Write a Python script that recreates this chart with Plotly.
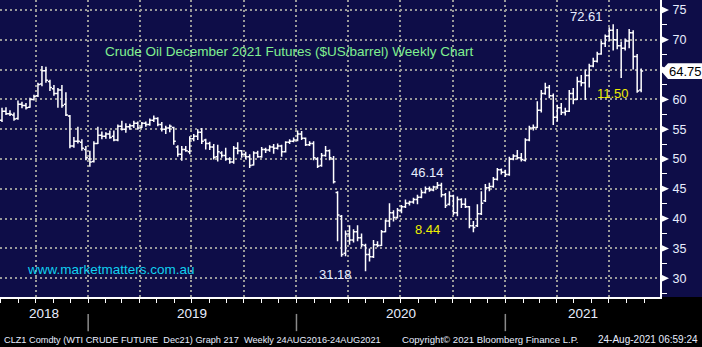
import pandas as pd
import plotly.graph_objects as go

# Weekly OHLC, CLZ1 (WTI Dec-21 future), Aug 2018 - Aug 2021
opens = [56.5, 58.0, 57.6, 57.4, 56.8, 59.2, 59.0, 58.7, 60.0, 60.6,
         62.6, 64.8, 63.0, 61.8, 61.0, 61.6, 59.2, 57.2, 52.2, 53.0,
         52.8, 51.6, 50.0, 49.6, 52.6, 54.0, 53.8, 54.2, 53.8, 53.2,
         55.5, 55.0, 55.4, 55.6, 56.0, 55.3, 56.0, 55.8, 56.5, 56.8,
         55.8, 55.0, 55.2, 55.3, 52.0, 50.8, 51.6, 51.2, 53.4, 53.8,
         54.5, 53.2, 52.6, 52.0, 50.4, 51.0, 50.6, 50.0, 49.5, 51.8,
         51.4, 50.8, 50.4, 49.0, 51.0, 50.4, 51.6, 51.5, 52.0, 51.8,
         52.2, 51.2, 52.8, 53.0, 53.2, 54.2, 53.5, 52.4, 52.6, 50.0,
         48.9, 50.6, 51.4, 50.0, 44.4, 40.4, 34.2, 37.4, 36.4, 37.8,
         36.8, 35.5, 34.0, 33.6, 35.6, 35.5, 37.8, 39.6, 41.0, 40.2,
         41.4, 42.0, 42.6, 42.8, 43.2, 43.6, 44.4, 45.0, 44.8, 45.3,
         45.6, 44.0, 42.4, 43.8, 41.0, 43.2, 42.4, 42.0, 38.8, 38.8,
         40.8, 43.0, 45.2, 45.4, 46.6, 48.2, 47.8, 47.4, 50.0, 50.5,
         50.2, 49.8, 53.2, 55.2, 55.3, 58.2, 61.0, 62.0, 60.6, 57.0,
         58.6, 57.8, 58.0, 61.0, 60.0, 63.0, 62.8, 64.0, 65.6, 66.4,
         67.6, 69.4, 70.6, 71.6, 70.0, 69.0, 68.6, 69.8, 71.2, 67.2,
         61.6]
highs = [58.6, 58.7, 58.2, 57.8, 59.8, 59.6, 59.4, 60.3, 60.8, 62.8,
         65.6, 65.5, 63.3, 62.4, 61.9, 62.4, 61.2, 57.4, 53.7, 55.4,
         53.3, 52.2, 51.4, 53.0, 55.4, 54.6, 54.5, 54.8, 54.8, 55.8,
         56.4, 56.0, 55.9, 56.4, 56.3, 56.2, 56.3, 56.8, 57.3, 57.0,
         56.2, 55.6, 55.8, 55.4, 52.3, 52.2, 52.2, 53.8, 54.2, 55.0,
         55.2, 53.4, 52.9, 52.5, 52.4, 51.3, 51.9, 50.3, 52.2, 52.8,
         51.5, 51.2, 50.8, 51.3, 51.4, 52.0, 51.9, 52.3, 52.5, 52.6,
         52.4, 53.0, 53.3, 53.6, 54.8, 54.7, 53.6, 53.0, 53.0, 50.3,
         51.0, 52.2, 51.6, 50.5, 44.6, 40.6, 38.0, 38.9, 38.2, 38.9,
         37.5, 35.8, 35.0, 36.4, 36.2, 38.1, 39.8, 42.6, 41.4, 41.8,
         42.3, 43.2, 43.0, 43.5, 44.0, 44.8, 45.4, 45.4, 45.5, 46.14,
         46.0, 44.3, 44.6, 44.0, 43.7, 43.4, 43.4, 42.1, 39.6, 42.4,
         44.6, 45.8, 46.0, 47.0, 48.5, 48.4, 48.2, 50.4, 50.8, 51.5,
         51.0, 53.5, 55.6, 55.8, 59.7, 61.6, 62.8, 62.4, 61.0, 59.1,
         59.4, 58.6, 61.6, 61.9, 63.8, 64.1, 65.0, 66.0, 67.0, 68.0,
         69.8, 70.9, 72.1, 72.61, 71.8, 69.7, 70.2, 71.8, 71.6, 67.6,
         65.2]
lows = [56.2, 57.4, 57.2, 56.4, 56.6, 58.5, 58.3, 58.6, 59.8, 60.4,
        62.2, 62.8, 61.4, 60.6, 58.6, 58.6, 57.2, 51.8, 51.9, 52.6,
        51.4, 49.8, 48.7, 49.4, 52.5, 53.3, 53.4, 53.4, 53.0, 53.0,
        54.8, 54.4, 54.9, 55.2, 54.9, 55.2, 55.4, 55.6, 56.2, 55.5,
        54.6, 54.2, 54.5, 52.4, 50.4, 49.7, 51.2, 50.8, 53.0, 53.2,
        52.5, 51.6, 51.5, 49.9, 49.6, 50.2, 49.7, 49.2, 49.2, 50.8,
        50.2, 50.0, 48.5, 48.9, 50.2, 50.2, 51.0, 51.2, 50.9, 51.6,
        50.4, 51.1, 52.5, 52.8, 53.0, 53.2, 52.2, 52.2, 49.8, 48.5,
        48.7, 50.4, 49.8, 45.9, 36.2, 33.6, 33.7, 35.6, 36.0, 36.2,
        35.2, 31.18, 32.8, 33.4, 35.2, 35.4, 37.7, 38.6, 39.5, 40.0,
        40.9, 41.8, 42.2, 42.5, 42.4, 43.4, 44.2, 44.5, 44.6, 45.0,
        43.6, 41.8, 42.2, 40.6, 40.4, 41.8, 41.8, 38.4, 37.70, 38.6,
        40.6, 42.8, 44.6, 45.2, 46.4, 47.4, 47.0, 47.2, 49.8, 49.9,
        49.6, 49.6, 53.0, 54.8, 55.2, 57.8, 60.8, 60.2, 55.7, 56.3,
        57.4, 57.3, 57.9, 59.2, 59.9, 62.2, 59.9, 62.0, 65.4, 66.2,
        67.5, 68.8, 69.8, 68.2, 68.4, 63.6, 68.2, 68.6, 65.0, 61.11,
        61.2]
closes = [58.0, 57.6, 57.5, 56.7, 59.2, 59.0, 58.6, 60.0, 60.5, 62.5,
          64.8, 63.2, 62.0, 61.0, 61.6, 59.0, 57.4, 52.2, 53.0, 53.0,
          51.8, 50.2, 49.5, 52.6, 54.0, 53.8, 54.2, 53.6, 53.2, 55.5,
          55.0, 55.4, 55.6, 56.0, 55.2, 56.0, 55.8, 56.5, 56.8, 55.8,
          55.0, 55.2, 55.5, 53.0, 50.8, 51.6, 51.4, 53.4, 53.8, 54.5,
          53.0, 52.6, 52.0, 50.3, 51.2, 50.6, 50.0, 49.5, 51.8, 51.4,
          50.8, 50.4, 48.9, 51.0, 50.4, 51.6, 51.5, 52.0, 51.8, 52.2,
          51.2, 52.8, 53.0, 53.2, 54.2, 53.5, 52.4, 52.6, 50.2, 48.8,
          50.6, 51.4, 50.2, 46.2, 40.6, 34.0, 37.4, 36.4, 37.8, 36.8,
          35.6, 34.0, 33.6, 35.6, 35.5, 37.8, 39.6, 41.0, 40.2, 41.4,
          42.0, 42.6, 42.8, 43.2, 43.6, 44.4, 45.0, 44.8, 45.3, 45.6,
          44.0, 42.2, 43.8, 41.0, 43.2, 42.4, 42.0, 38.8, 38.5, 40.8,
          42.6, 45.2, 45.4, 46.6, 48.2, 47.8, 47.4, 50.0, 50.5, 50.2,
          49.9, 53.2, 55.2, 55.3, 58.2, 61.0, 62.0, 60.6, 57.0, 58.6,
          57.8, 58.0, 61.0, 60.0, 63.0, 62.8, 64.0, 65.6, 66.4, 67.6,
          69.4, 70.6, 71.6, 70.0, 69.0, 68.6, 69.8, 71.2, 67.2, 61.4,
          64.75]
weeks = pd.date_range(end="2021-08-27", periods=len(closes), freq="W-FRI")

price_ticks = [30, 35, 40, 45, 50, 55, 60, 65, 70, 75]
years = [2018, 2019, 2020, 2021]

title_text = "Crude Oil December 2021 Futures ($US/barrel) Weekly Chart"
site_text = "www.marketmatters.com.au"
footer_left = "CLZ1 Comdty (WTI CRUDE FUTURE \u00a0Dec21) Graph 217 \u00a0Weekly 24AUG2016-24AUG2021"
footer_mid = "Copyright\u00a9 2021 Bloomberg Finance L.P."
footer_right = "24-Aug-2021 06:59:24"

NAVY = "#0e0d48"
GRID = "#9a9a9a"
LABEL = "#e8eeff"
YELLOW = "#eeee00"
FONT = "Liberation Sans, Arial, sans-serif"

# key swing levels derived from the series
i_low = lows.index(min(lows))
i_top20 = max(range(i_low, i_low + 25), key=lambda i: highs[i])
pull20 = min(lows[i_top20:i_top20 + 12])
i_top21 = highs.index(max(highs))
pull21 = min(lows[i_top21:])
last = closes[-1]

x_start = weeks[0] - pd.Timedelta(days=3.5)
x_end = weeks[-1] + pd.Timedelta(days=33)
y_range = [26.85, 76.68]

fig = go.Figure()
fig.add_trace(go.Ohlc(
    x=weeks, open=opens, high=highs, low=lows, close=closes,
    increasing=dict(line=dict(color="white", width=1.5)),
    decreasing=dict(line=dict(color="white", width=1.5)),
    tickwidth=0.5, hoverinfo="skip", showlegend=False,
))

# the price flag sits over the nearest scale label
tick_text = ["" if abs(v - last) < 2 else str(v) for v in price_ticks]

fig.update_layout(
    width=702, height=347,
    margin=dict(l=0, r=42, t=0, b=50),
    paper_bgcolor="black", plot_bgcolor=NAVY,
    showlegend=False,
    font=dict(family=FONT, color=LABEL),
    xaxis=dict(
        type="date", range=[x_start, x_end],
        rangeslider=dict(visible=False),
        tickmode="linear", tick0="2018-01-01", dtick="M3",
        showgrid=True, gridcolor=GRID, gridwidth=2, griddash="2px,3px",
        ticks="outside", ticklen=4, tickwidth=1, tickcolor="white",
        showticklabels=False, showline=True, linecolor="white", linewidth=2,
        zeroline=False,
        minor=dict(tick0="2018-01-01", dtick="M1", ticks="outside",
                   ticklen=4, tickwidth=1, tickcolor="white", showgrid=False),
    ),
    yaxis=dict(
        side="right", range=y_range,
        tickmode="array", tickvals=price_ticks, ticktext=tick_text,
        showgrid=True, gridcolor=GRID, gridwidth=2, griddash="2px,3px",
        ticks="outside", ticklen=8, tickwidth=1, tickcolor=NAVY,
        tickfont=dict(size=12.5, color=LABEL, family=FONT),
        showline=True, linecolor="white", linewidth=2, zeroline=False,
        minor=dict(tick0=27.5, dtick=5, ticks="outside", ticklen=5,
                   tickwidth=1, tickcolor="white", showgrid=False),
    ),
)

shapes = []
# navy panel behind the price scale
shapes.append(dict(type="rect", xref="paper", yref="paper", x0=1, x1=702 / 660,
                   y0=0, y1=1, fillcolor=NAVY, line=dict(width=0), layer="below"))
# arrow heads on the major price ticks
for v in price_ticks:
    shapes.append(dict(
        type="path", xref="paper", yref="y",
        path=f"M {1 + 1/660},{v + 0.62} L {1 + 9/660},{v} L {1 + 1/660},{v - 0.62} Z",
        fillcolor="white", line=dict(width=0),
    ))
# last-price flag
h = 1.32
shapes.append(dict(
    type="path", xref="paper", yref="y",
    path=(f"M {1 + 1/660},{last} L {1 + 8/660},{last + h} L {702/660},{last + h} "
          f"L {702/660},{last - h} L {1 + 8/660},{last - h} Z"),
    fillcolor="white", line=dict(width=0),
))
# year separators in the date strip
for yr in years[1:]:
    shapes.append(dict(type="line", xref="x", yref="paper",
                       x0=f"{yr}-01-01", x1=f"{yr}-01-01", y0=-0.057, y1=-0.115,
                       line=dict(color="#8a8a8a", width=1.5)))
fig.update_layout(shapes=shapes)

ann = []
for yr in years:
    a = max(pd.Timestamp(f"{yr}-01-01"), x_start)
    b = min(pd.Timestamp(f"{yr + 1}-01-01"), x_end)
    ann.append(dict(text=str(yr), xref="x", yref="paper", x=a + (b - a) / 2, y=-0.087,
                    showarrow=False, font=dict(size=13.5, color=LABEL)))


def label(text, px, py, color=LABEL, size=13, anchor="center"):
    return dict(text=text, xref="paper", yref="paper", x=px / 660, y=1 - py / 297,
                xanchor=anchor, yanchor="middle", showarrow=False,
                font=dict(size=size, color=color))


ann += [
    label(title_text, 289, 52, color="#80f090", size=13.5),
    label(site_text, 110.5, 269, color="#10d0f0", size=13.5),
    label(f"{highs[i_top21]:.2f}", 586, 17),
    label(f"{highs[i_top21] - pull21:.2f}", 613, 93, color=YELLOW),
    label(f"{highs[i_top20]:.2f}", 427, 172),
    label(f"{highs[i_top20] - pull20:.2f}", 427, 229, color=YELLOW),
    label(f"{lows[i_low]:.2f}", 336, 274),
    label(f"{last:.2f}", 685, 71, color="black", size=13),
    label(footer_left, 2, 340, size=9.2, anchor="left"),
    label(footer_mid, 400, 340, size=9.6, anchor="left"),
    label(footer_right, 700, 340, size=10, anchor="right"),
]
fig.update_layout(annotations=ann)

fig.write_html("out.html")
